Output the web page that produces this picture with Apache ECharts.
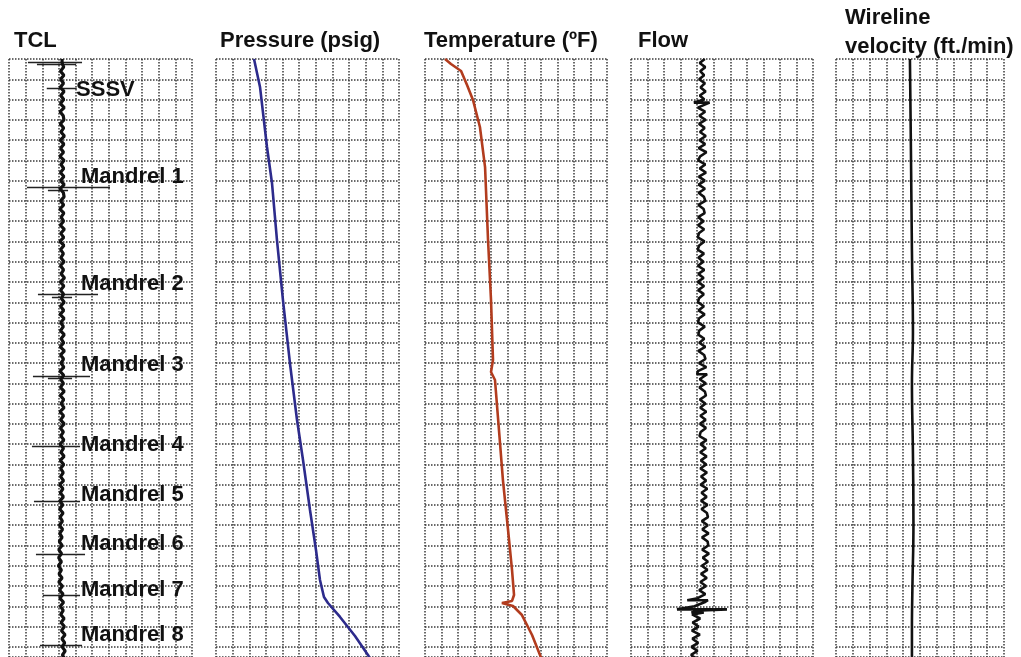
<!DOCTYPE html>
<html>
<head>
<meta charset="utf-8">
<script src="https://cdn.jsdelivr.net/npm/echarts@6/dist/echarts.min.js"></script>
<style>
  html, body { margin: 0; padding: 0; background: #ffffff; }
  #chart { width: 1021px; height: 657px; }
</style>
</head>
<body>
<div id="chart"></div>
<script>
// Track headers
const trackTitles = ['TCL', 'Pressure (psig)', 'Temperature (ºF)', 'Flow', 'Wireline', 'velocity (ft./min)'];

// Depth scale (ft), one grid row = 200 ft
const depthMin = 0;
const depthMax = 5900;
const depthStep = 40; // sampling step of the noisy logs

// TCL (tubing collar locator) trace, one value every 40 ft
const tclValues = [
  31.9, 31.9, 32.9, 30.9, 33.0, 31.0, 32.8, 30.8, 33.1, 31.1,
  32.9, 30.9, 33.2, 30.7, 32.6, 33.0, 30.8, 32.9, 31.2, 33.3,
  30.8, 33.0, 31.0, 32.8, 30.6, 33.1, 31.2, 32.9, 30.9, 33.0,
  31.0, 33.2, 30.7, 32.7, 33.1, 31.0, 32.9, 30.6, 33.0, 31.3,
  32.8, 30.8, 33.3, 31.1, 32.9, 30.6, 33.0, 31.0, 32.7, 31.2,
  33.1, 30.9, 32.8, 31.3, 33.4, 30.8, 33.0, 31.0, 32.8, 31.4,
  33.2, 30.9, 32.9, 30.7, 33.1, 31.1, 32.7, 30.9, 33.2, 31.3,
  32.9, 30.8, 33.3, 31.0, 32.8, 31.2, 33.0, 30.6, 32.9, 31.1,
  32.7, 30.9, 33.2, 30.8, 32.9, 31.3, 33.1, 30.7, 32.8, 31.0,
  33.2, 30.9, 32.7, 31.1, 33.0, 30.6, 32.8, 31.2, 33.1, 30.8,
  32.9, 31.0, 32.6, 31.0, 32.8, 30.5, 32.4, 30.8, 32.7, 30.6,
  32.3, 30.4, 32.5, 30.7, 32.1, 30.3, 32.2, 30.5, 31.9, 30.2,
  31.9, 29.9, 31.6, 29.8, 31.5, 29.7, 31.5, 30.1, 31.9, 29.9,
  32.1, 30.3, 32.5, 30.5, 32.8, 30.9, 32.6, 31.1, 33.1, 31.3,
  33.3, 31.5, 33.7, 31.8, 33.5, 31.9, 33.8, 32.1, 33.6, 32.0, 33.4
];

// Collar / jewellery marks on the TCL track: depth, left, right
const markDepth = [36, 52, 289, 1266, 1299, 2319, 2355, 3134, 3152, 3825, 4368, 4884, 5295, 5781];
const markLeft  = [11.4, 16.8, 22.7, 10.8, 23.4, 17.4, 25.8, 14.4, 23.4, 13.8, 15.0, 16.2, 20.4, 18.6];
const markRight = [43.9, 40.3, 40.7, 60.7, 35.5, 53.5, 37.9, 48.7, 37.9, 42.7, 42.7, 45.7, 42.7, 43.9];

// Completion components
const componentNames = ['SSSV', 'Mandrel 1', 'Mandrel 2', 'Mandrel 3', 'Mandrel 4', 'Mandrel 5', 'Mandrel 6', 'Mandrel 7', 'Mandrel 8'];
const componentDepth = [306, 1159, 2220, 3014, 3803, 4297, 4780, 5234, 5678];
const componentLabelX = [40.3, 43.3, 43.3, 43.3, 43.3, 43.3, 43.3, 43.3, 43.3];

// Pressure survey (psig) vs depth (ft)
const pressureDepth = [0, 276, 868, 1223, 1786, 2378, 3009, 3562, 3956, 4450, 4844, 5140, 5308, 5367, 5505, 5693, 5880, 5949];
const pressureValue = [457, 529, 613, 673, 733, 805, 890, 974, 1046, 1130, 1202, 1250, 1298, 1346, 1491, 1671, 1827, 1875];

// Temperature survey (ºF) vs depth (ft)
const temperatureDepth = [0, 49, 118, 257, 405, 671, 1066, 1786, 2378, 2970, 3088, 3167, 3660, 4154, 4647, 5042, 5288, 5347, 5367, 5397, 5486, 5683, 5880, 5949];
const temperatureValue = [62.1, 65.7, 71.8, 75.4, 79.0, 83.2, 86.3, 88.1, 89.9, 91.1, 89.9, 92.3, 94.7, 97.1, 100.2, 102.6, 103.8, 102.6, 96.5, 103.2, 108.6, 114.7, 119.5, 121.2];

// Spinner flow trace, one value every 40 ft
const flowValues = [
  44.6, 41.5, 44.9, 41.8, 44.2, 41.2, 44.7, 42.0, 45.1, 41.6,
  44.3, 46.0, 40.4, 44.8, 41.3, 45.0, 41.1, 44.5, 41.7, 45.2,
  41.4, 44.8, 40.9, 45.6, 41.8, 40.6, 44.9, 41.5, 45.3, 41.0,
  44.6, 40.9, 44.7, 40.8, 44.1, 44.9, 40.7, 43.9, 44.5, 40.6,
  43.9, 40.5, 44.2, 41.0, 40.4, 44.4, 41.2, 40.3, 44.1, 40.8,
  43.8, 40.4, 44.3, 40.7, 43.9, 40.2, 44.2, 40.6, 44.0, 41.1,
  40.5, 44.1, 40.8, 44.5, 41.0, 40.6, 44.6, 41.2, 40.7, 44.3,
  41.3, 44.9, 40.7, 44.2, 45.0, 41.1, 45.5, 40.4, 44.8, 41.5,
  45.2, 41.3, 44.6, 45.3, 41.6, 44.9, 41.8, 45.5, 41.9, 45.1,
  41.7, 45.3, 42.1, 41.4, 45.6, 42.0, 45.2, 41.8, 45.7, 42.2,
  45.5, 41.9, 45.9, 42.3, 45.4, 42.0, 46.1, 42.6, 45.7, 42.3,
  46.2, 42.6, 45.9, 46.5, 42.8, 46.4, 43.1, 46.9, 42.9, 46.3,
  46.7, 43.0, 47.1, 43.4, 46.5, 42.8, 46.2, 42.3, 45.8, 41.9,
  45.3, 41.2, 44.9, 40.3, 44.4, 38.4, 42.6, 36.9, 41.8, 37.2,
  40.9, 36.8, 41.6, 37.1, 40.6, 36.5, 40.2, 36.3, 39.8, 36.6, 39.4
];
// Short horizontal spikes on the flow trace: depth, low, high
const flowSpikeDepth = [430, 3110, 5340, 5430, 5460];
const flowSpikeLow   = [38.0, 40.0, 34.0, 27.8, 36.5];
const flowSpikeHigh  = [47.5, 46.0, 46.5, 58.0, 44.0];

// Wireline velocity (ft/min) vs depth (ft)
const velocityDepth = [0, 900, 1900, 2700, 3200, 3900, 4600, 5200, 5600, 6000];
const velocityValue = [44.0, 44.6, 45.2, 45.8, 45.2, 45.8, 46.1, 45.5, 45.2, 45.2];

// ---------------------------------------------------------------------
const FONT = '"Liberation Sans", Arial, Helvetica, sans-serif';
const gridLine = { show: true, lineStyle: { color: '#3a3a3a', width: 1.5, type: [1.5, 1.5] } };

const tracks = [
  { left: 9,   width: 183, min: 0,  max: 110,  interval: 10 },
  { left: 216, width: 183, min: 0,  max: 2200, interval: 200 },
  { left: 425, width: 182, min: 50, max: 160,  interval: 10 },
  { left: 631, width: 182, min: 0,  max: 110,  interval: 10 },
  { left: 836, width: 168, min: 0,  max: 100,  interval: 10 }
];

const grid = tracks.map(t => ({ left: t.left, width: t.width, top: 59, height: 598 }));
const xAxis = tracks.map((t, i) => ({
  type: 'value', gridIndex: i, min: t.min, max: t.max, interval: t.interval,
  axisLine: { show: false }, axisTick: { show: false }, axisLabel: { show: false },
  splitLine: gridLine
}));
const yAxis = tracks.map((t, i) => ({
  type: 'value', gridIndex: i, inverse: true, min: depthMin, max: depthMax, interval: 200,
  axisLine: { show: false }, axisTick: { show: false }, axisLabel: { show: false },
  splitLine: gridLine
}));

const pairs = (vals, depths) => vals.map((v, i) => [v, depths[i]]);
const sampled = vals => vals.map((v, i) => [v, i * depthStep]);

// flow trace with spikes inserted at their depths
const flowData = [];
flowValues.forEach((v, i) => {
  const d = i * depthStep;
  flowData.push([v, d]);
  flowSpikeDepth.forEach((sd, k) => {
    if (sd > d && sd <= d + depthStep) {
      flowData.push([flowSpikeLow[k], sd]);
      flowData.push([flowSpikeHigh[k], sd]);
    }
  });
});

const logLine = (idx, data, color, width, smooth) => ({
  type: 'line', xAxisIndex: idx, yAxisIndex: idx, data: data,
  showSymbol: false, symbol: 'none', smooth: smooth || false,
  lineStyle: { color: color, width: width }, z: 5, silent: true
});

const series = [
  {
    type: 'lines', coordinateSystem: 'cartesian2d', xAxisIndex: 0, yAxisIndex: 0,
    data: markDepth.map((d, i) => ({ coords: [[markLeft[i], d], [markRight[i], d]] })),
    lineStyle: { color: '#222', width: 1.4, opacity: 1 }, z: 3, silent: true
  },
  logLine(0, sampled(tclValues), '#111', 3.2),
  {
    type: 'scatter', xAxisIndex: 0, yAxisIndex: 0, symbolSize: 0, z: 6, silent: true,
    itemStyle: { opacity: 1 },
    data: componentNames.map((n, i) => ({ name: n, value: [componentLabelX[i], componentDepth[i]] })),
    label: {
      show: true, position: 'right', distance: 0, formatter: p => p.name,
      fontFamily: FONT, fontWeight: 'bold', fontSize: 22, color: '#111', opacity: 1
    }
  },
  logLine(1, pairs(pressureValue, pressureDepth), '#2d2b8c', 2.6),
  logLine(2, pairs(temperatureValue, temperatureDepth), '#b23c1e', 2.6),
  logLine(3, flowData, '#111', 2.6),
  logLine(4, pairs(velocityValue, velocityDepth), '#111', 2.6, 0.4)
];

const headerPos = [[14, 41], [220, 41], [424, 41], [638, 41], [845, 17.5], [845, 46.5]];
const graphic = trackTitles.map((t, i) => ({
  type: 'text', x: headerPos[i][0], y: headerPos[i][1], silent: true,
  style: { text: t, font: 'bold 22px ' + FONT, fill: '#111', verticalAlign: 'middle' }
}));

const chart = echarts.init(document.getElementById('chart'), null, { renderer: 'canvas' });
chart.setOption({
  backgroundColor: '#ffffff',
  animation: false,
  grid: grid,
  xAxis: xAxis,
  yAxis: yAxis,
  series: series,
  graphic: graphic
});
</script>
</body>
</html>
